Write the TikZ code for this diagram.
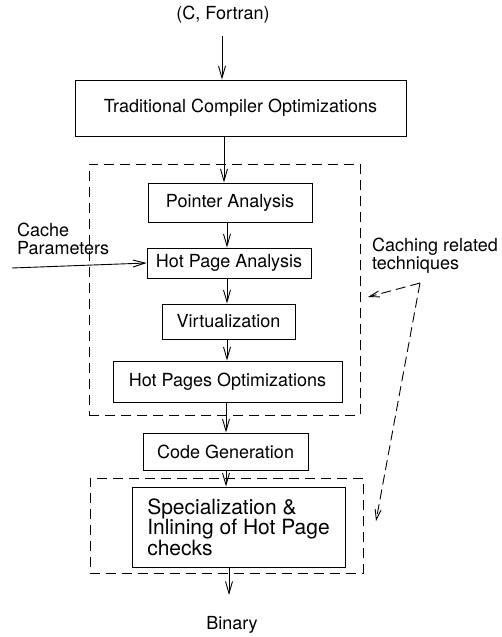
\documentclass[tikz,border=0pt]{standalone}
\usepackage{fontspec}
\setmainfont{TeX Gyre Heros}
\usetikzlibrary{arrows.meta}
\begin{document}
\begin{tikzpicture}[x=1pt,y=-1pt,
  font=\fontsize{18}{18}\selectfont,
  stage/.style={draw, line width=0.9pt, inner sep=0pt, rectangle},
  group/.style={draw, line width=0.9pt, inner sep=0pt, rectangle, dash pattern=on 10pt off 6pt},
  arr/.style={line width=0.9pt, -{Straight Barb[length=12pt,width=7pt,line width=0.9pt]}},
  hint/.style={line width=0.9pt, dash pattern=on 10pt off 5pt, -{Straight Barb[length=10pt,width=6pt,line width=0.9pt]}},
  label/.style={inner sep=0pt}]
\useasboundingbox (0,0) rectangle (501,637);

% grouping frames
\node[group, minimum width=271pt, minimum height=251pt] (grpA) at (224.5,289.5) {};
\node[group, minimum width=273pt, minimum height=95pt] (grpB) at (226.5,525.5) {};

% compilation stages
\node[label] (src) at (223,15) {(C, Fortran)};
\node[stage, minimum width=331pt, minimum height=56pt] (trad) at (240.5,108) {Traditional Compiler Optimizations};
\node[stage, minimum width=164pt, minimum height=39pt] (pa) at (230,202.5) {Pointer Analysis};
\node[stage, minimum width=164pt, minimum height=30pt] (hpa) at (229,263) {Hot Page Analysis};
\node[stage, minimum width=133pt, minimum height=35pt] (virt) at (228.5,321.5) {Virtualization};
\node[stage, minimum width=229pt, minimum height=41pt] (hpo) at (227.5,381.5) {Hot Pages Optimizations};
\node[stage, minimum width=165pt, minimum height=37pt] (cg) at (225.5,451.5) {Code Generation};
\node[stage, minimum width=213pt, minimum height=80pt, align=left,
      font=\fontsize{21}{20.5}\selectfont] (spec) at (238.5,527)
      {Specialization \&\\Inlining of Hot Page\\checks};
\node[label] (bin) at (232,625) {Binary};

% side labels
\node[label, anchor=west, align=left] (cparm) at (17,239) {Cache\\Parameters};
\node[label, anchor=west, align=left] (crel) at (372,256) {Caching related\\techniques};

% auxiliary points
\coordinate (cin) at (12,268);
\coordinate (knee) at (420,283);
\coordinate (tipA) at (368,297);
\coordinate (tipB) at (376,521);
\coordinate (binTop) at (229,595);

% main flow
\draw[arr] (src.south -| 222,0) ++(0,12) -- (trad.north -| 222,0);
\draw[arr] (trad.south -| 224,0) -- (pa.north -| 224,0);
\draw[arr] (pa.south -| 227,0) -- (hpa.north -| 227,0);
\draw[arr] (hpa.south -| 227,0) -- (virt.north -| 227,0);
\draw[arr] (virt.south -| 227,0) -- (hpo.north -| 227,0);
\draw[arr] (hpo.south -| 226,0) -- (cg.north -| 226,0);
\draw[arr] (cg.south -| 226,0) -- (spec.north -| 226,0);
\draw[arr] (spec.south -| 229,0) -- (binTop);

% cache parameters input
\draw[arr] (cin) -- (hpa.west);

% pointers to the caching-related groups
\draw[hint] (knee) -- (tipA);
\draw[hint] (knee) -- (tipB);
\end{tikzpicture}
\end{document}
